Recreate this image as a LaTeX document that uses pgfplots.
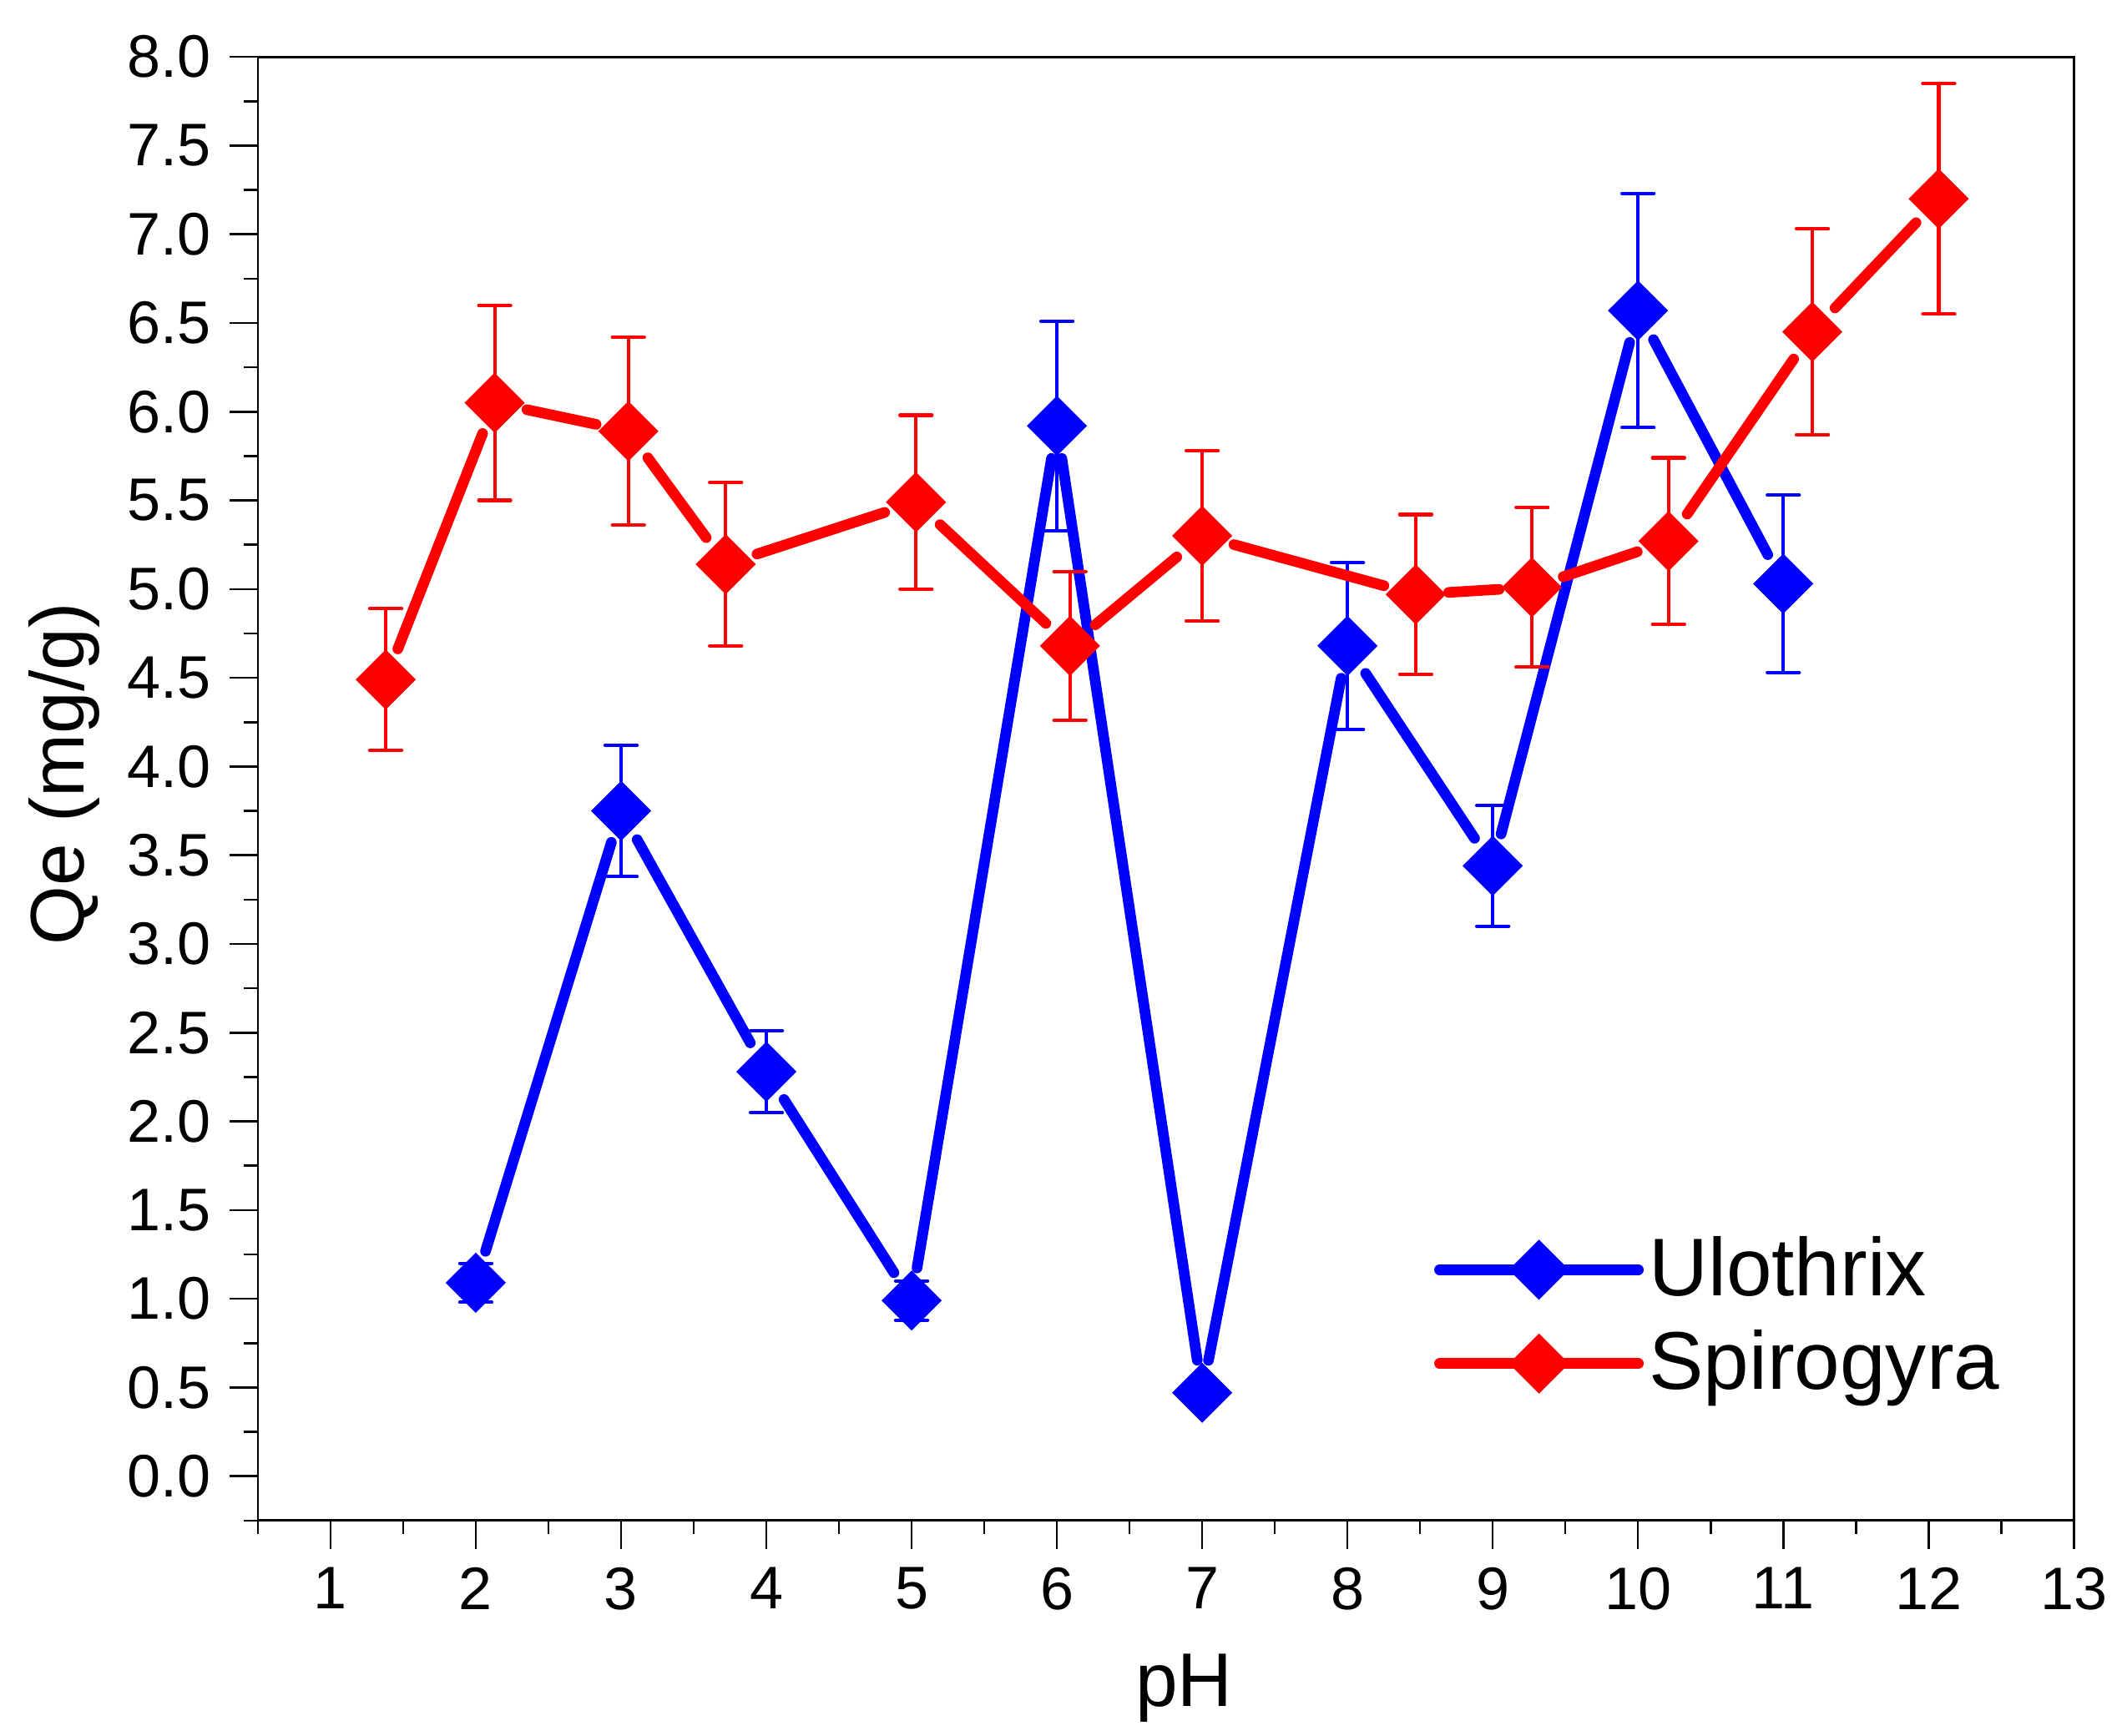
\documentclass[border=0pt]{standalone}
\usepackage{fontspec}
\setmainfont{Liberation Sans}
\usepackage{pgfplots}
\pgfplotsset{compat=1.18}
\definecolor{ublue}{RGB}{0,0,255}
\definecolor{sred}{RGB}{255,0,0}
\begin{document}
\begin{tikzpicture}
\useasboundingbox (0,0) rectangle (400pt,326.4pt);
\begin{axis}[
  at={(48.5pt,40.4pt)}, anchor=south west,
  scale only axis, width=341.5pt, height=275.3pt,
  xmin=0.5, xmax=13, ymin=-0.25, ymax=8,
  xtick={1,2,...,13}, minor xtick={0.5,1.5,...,12.5},
  ytick={0,0.5,...,8}, minor ytick={-0.25,0.25,...,7.75},
  xtick pos=bottom, ytick pos=left, tick align=outside,
  major tick length=5.3pt, minor tick length=2.6pt,
  tick style={black, line width=0.4pt},
  axis line style={line width=0.45pt},
  /pgf/number format/assume math mode=true,
  ticklabel style={font=\fontsize{11.3}{13}\selectfont},
  yticklabel style={/pgf/number format/.cd, fixed, fixed zerofill, precision=1},
  xlabel={pH}, ylabel={Qe (mg/g)},
  xlabel style={at={(axis description cs:0.51,-0.127)}, anchor=base, font=\fontsize{14.3}{17}\selectfont},
  ylabel style={at={(axis description cs:-0.096,0.51)}, rotate=0, anchor=base, font=\fontsize{14.3}{17}\selectfont},
  legend style={at={(axis cs:8.59,0.899)}, anchor=west, draw=none, fill=none,
    inner sep=0pt, row sep=5pt, column sep=1pt, nodes={inner sep=0pt},
    font=\fontsize{15.4}{18}\selectfont},
  legend cell align=left,
  clip=false,
]
% Ulothrix line segments
\addplot[forget plot, ublue, line width=2pt, line cap=round, mark=none,
  quiver={u=\thisrow{x2}-\thisrow{x1}, v=\thisrow{y2}-\thisrow{y1},
    every arrow/.append style={shorten <=6.2pt, shorten >=6.2pt}}]
  table[x=x1, y=y1] {
x1 y1 x2 y2
2 1.09 3 3.75
3 3.75 4 2.28
4 2.28 5 0.99
5 0.99 6 5.92
6 5.92 7 0.47
7 0.47 8 4.68
8 4.68 9 3.44
9 3.44 10 6.57
10 6.57 11 5.03
};
\addplot[only marks, color=ublue, mark=square*, mark size=3.9pt,
  mark options={rotate=45, fill=ublue, draw=ublue, line width=0.2pt},
  legend image code/.code={
    \draw[ublue, line width=2pt, line cap=round] (0pt,0pt) -- (37.4pt,0pt);
    \draw[ublue, mark=square*, mark size=3.9pt, mark options={rotate=45, fill=ublue, draw=ublue, line width=0.2pt}] plot coordinates {(18.7pt,0pt)};
  },
  error bars/.cd, y dir=both, y explicit,
  error bar style={line width=0.65pt, ublue, line cap=round},
  error mark options={rotate=90, mark size=3pt, line width=0.65pt, ublue, line cap=round}]
  table[x=x, y=y, y error=e] {
x y e
2 1.09 0.11
3 3.75 0.37
4 2.28 0.23
5 0.99 0.11
6 5.92 0.59
7 0.47 0.03
8 4.68 0.47
9 3.44 0.34
10 6.57 0.66
11 5.03 0.50
};
\addlegendentry{Ulothrix}
% Spirogyra line segments
\addplot[forget plot, sred, line width=2pt, line cap=round, mark=none,
  quiver={u=\thisrow{x2}-\thisrow{x1}, v=\thisrow{y2}-\thisrow{y1},
    every arrow/.append style={shorten <=6.2pt, shorten >=6.2pt}}]
  table[x=x1, y=y1] {
x1 y1 x2 y2
1.38 4.49 2.13 6.05
2.13 6.05 3.05 5.89
3.05 5.89 3.72 5.14
3.72 5.14 5.03 5.49
5.03 5.49 6.09 4.68
6.09 4.68 7.00 5.30
7.00 5.30 8.47 4.97
8.47 4.97 9.27 5.01
9.27 5.01 10.21 5.27
10.21 5.27 11.20 6.45
11.20 6.45 12.07 7.20
};
\addplot[only marks, color=sred, mark=square*, mark size=3.9pt,
  mark options={rotate=45, fill=sred, draw=sred, line width=0.2pt},
  legend image code/.code={
    \draw[sred, line width=2pt, line cap=round] (0pt,0pt) -- (37.4pt,0pt);
    \draw[sred, mark=square*, mark size=3.9pt, mark options={rotate=45, fill=sred, draw=sred, line width=0.2pt}] plot coordinates {(18.7pt,0pt)};
  },
  error bars/.cd, y dir=both, y explicit,
  error bar style={line width=0.65pt, sred, line cap=round},
  error mark options={rotate=90, mark size=3pt, line width=0.65pt, sred, line cap=round}]
  table[x=x, y=y, y error=e] {
x y e
1.38 4.49 0.40
2.13 6.05 0.55
3.05 5.89 0.53
3.72 5.14 0.46
5.03 5.49 0.49
6.09 4.68 0.42
7.00 5.30 0.48
8.47 4.97 0.45
9.27 5.01 0.45
10.21 5.27 0.47
11.20 6.45 0.58
12.07 7.20 0.65
};
\addlegendentry{Spirogyra}
\end{axis}
\end{tikzpicture}
\end{document}
